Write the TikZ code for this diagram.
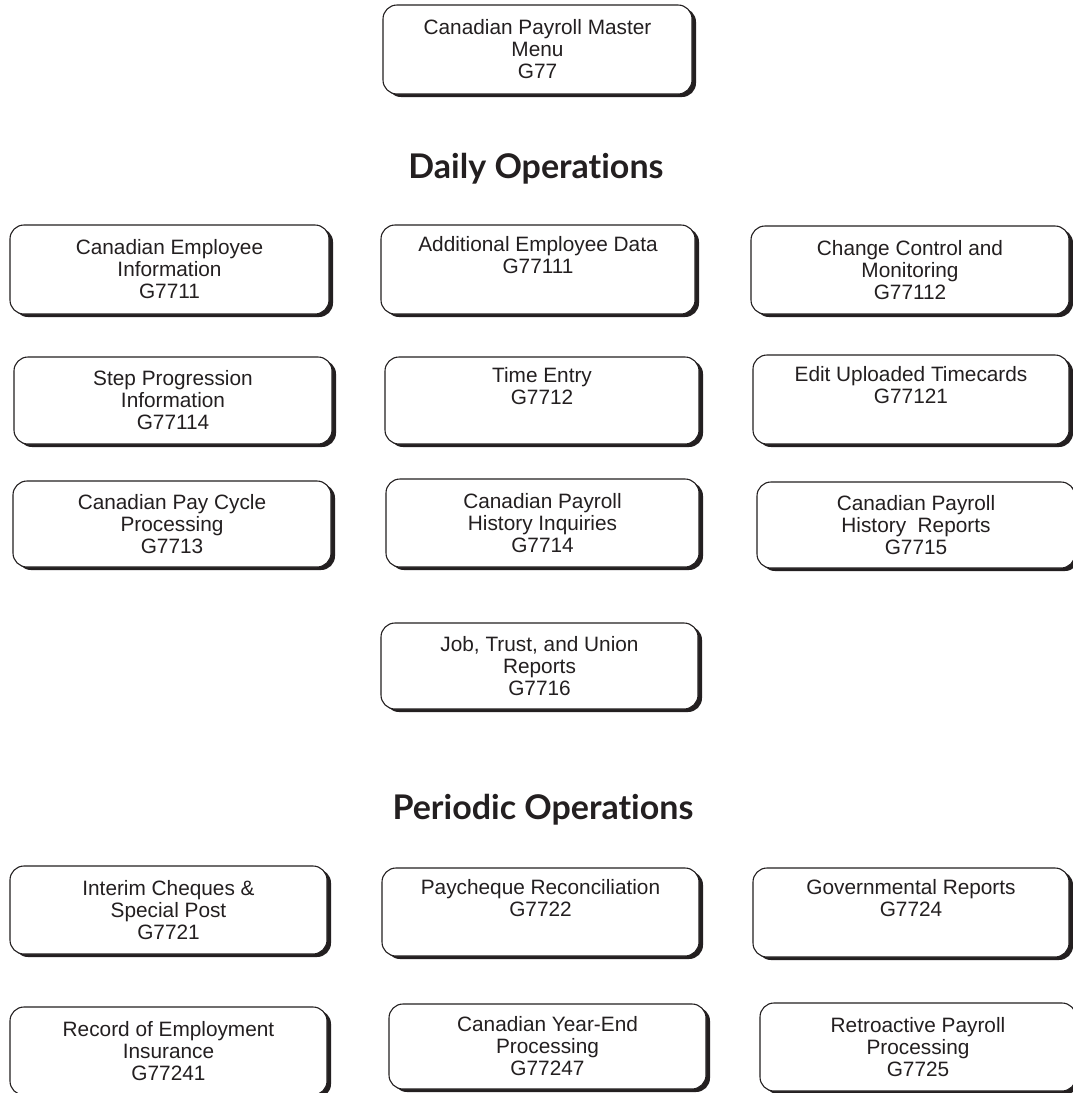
\documentclass[tikz,border=0pt]{standalone}
\usepackage{fontspec}
\setmainfont{Liberation Sans}
\newfontfamily\headfont[Ligatures=NoCommon]{Lato}
\usetikzlibrary{shadows}
\definecolor{ink}{HTML}{231F20}
\tikzset{
  menubox/.style={draw=ink, line width=1.1pt, fill=white, rounded corners=14pt,
    inner sep=0pt, align=center, text=ink,
    font=\fontsize{20.8}{22}\selectfont,
    drop shadow={shadow xshift=4pt, shadow yshift=-3pt, fill=ink, opacity=1}},
  heading/.style={anchor=base, text=ink, font=\headfont\bfseries\fontsize{34}{38}\selectfont}
}
\begin{document}
\begin{tikzpicture}[x=1pt, y=-1pt]
\useasboundingbox (0,0) rectangle (1073,1093);
\fill[white] (0,0) rectangle (1073,1093);

% master menu
\node[menubox, minimum width=309pt, minimum height=89pt] (master) at (537.5,49.5)
  {Canadian Payroll Master\\Menu\\G77};

\node[heading] (daily) at (536,178) {Daily Operations};

% daily operations
\node[menubox, minimum width=319pt, minimum height=89pt] (emp) at (169.5,269.5)
  {Canadian Employee\\Information\\G7711};
\node[menubox, minimum width=314pt, minimum height=89pt] (add) at (538,269.5)
  {Additional Employee Data\\G77111\\\strut};
\node[menubox, minimum width=318pt, minimum height=88pt] (chg) at (910,270)
  {Change Control and\\Monitoring\\G77112};

\node[menubox, minimum width=318pt, minimum height=87pt] (stepprog) at (173,400.5)
  {Step Progression\\Information\\G77114};
\node[menubox, minimum width=314pt, minimum height=87pt] (time) at (542,400.5)
  {Time Entry\\G7712\\\strut};
\node[menubox, minimum width=316pt, minimum height=89pt] (edit) at (911,399.5)
  {Edit Uploaded Timecards\\G77121\\\strut};

\node[menubox, minimum width=318pt, minimum height=86pt] (cycle) at (172,524)
  {Canadian Pay Cycle\\Processing\\G7713};
\node[menubox, minimum width=313pt, minimum height=88pt] (hinq) at (542.5,523)
  {Canadian Payroll\\History Inquiries\\G7714};
\node[menubox, minimum width=318pt, minimum height=86pt] (hrep) at (916,525)
  {Canadian Payroll\\History\ \ Reports\\G7715};

\node[menubox, minimum width=317pt, minimum height=86pt] (job) at (539.5,666)
  {Job, Trust, and Union\\Reports\\G7716};

\node[heading] (periodic) at (543,819) {Periodic Operations};

% periodic operations
\node[menubox, minimum width=317pt, minimum height=88pt] (interim) at (168.5,910)
  {Interim Cheques \&\\Special Post\\G7721};
\node[menubox, minimum width=317pt, minimum height=88pt] (paych) at (540.5,912)
  {Paycheque Reconciliation\\G7722\\\strut};
\node[menubox, minimum width=316pt, minimum height=89pt] (gov) at (911,912.5)
  {Governmental Reports\\G7724\\\strut};

\node[menubox, minimum width=317pt, minimum height=88pt] (roe) at (168.5,1051)
  {Record of Employment\\Insurance\\G77241};
\node[menubox, minimum width=317pt, minimum height=85pt] (yend) at (547.5,1046.5)
  {Canadian Year-End\\Processing\\G77247};
\node[menubox, minimum width=316pt, minimum height=88pt] (retro) at (918,1047)
  {Retroactive Payroll\\Processing\\G7725};
\end{tikzpicture}
\end{document}
